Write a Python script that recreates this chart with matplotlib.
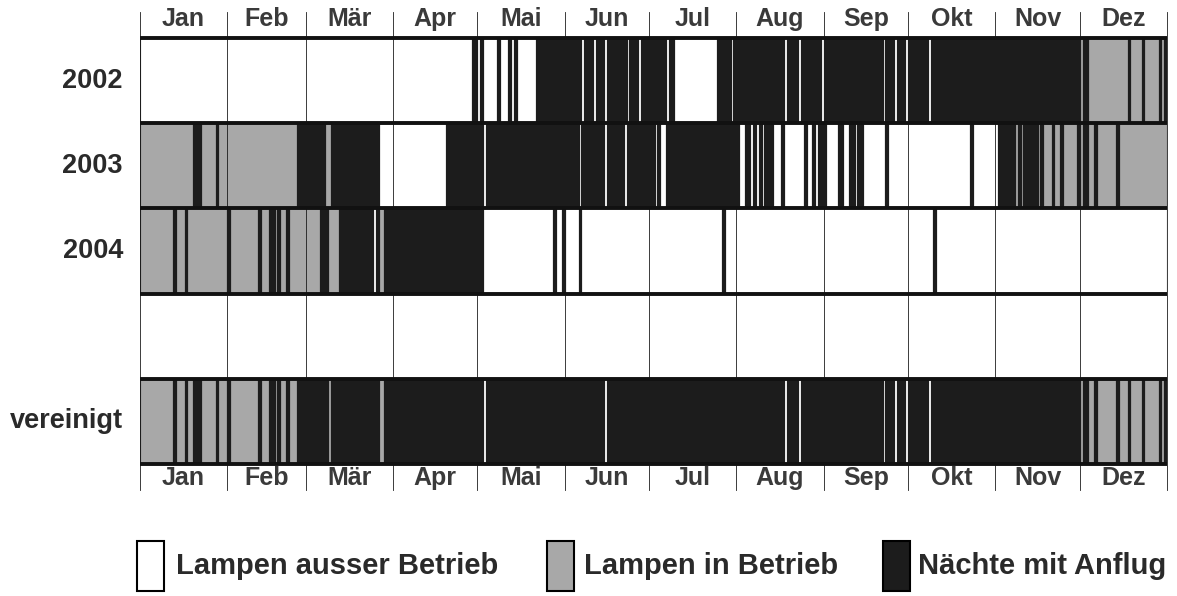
import matplotlib
matplotlib.use('Agg')
import matplotlib.pyplot as plt
from matplotlib.patches import Rectangle

plt.rcParams['font.family'] = ['Liberation Sans', 'DejaVu Sans']

months = ['Jan', 'Feb', 'Mär', 'Apr', 'Mai', 'Jun', 'Jul', 'Aug', 'Sep', 'Okt', 'Nov', 'Dez']
month_days = [31, 28, 31, 30, 31, 30, 31, 31, 30, 31, 30, 31]
year_days = 365

# W = Lampen ausser Betrieb, G = Lampen in Betrieb, B = Nächte mit Anflug
# each entry: (first day of run, state); a run lasts until the next entry
row_2002 = [(0, 'W'), (118, 'B'), (120, 'W'), (121, 'B'), (122, 'W'), (127, 'B'), (128, 'W'),
            (131, 'B'), (132, 'W'), (133, 'B'), (134, 'W'), (141, 'B'), (157, 'W'), (158, 'B'),
            (161, 'W'), (162, 'B'), (165, 'W'), (166, 'B'), (173, 'W'), (174, 'B'), (177, 'W'),
            (178, 'B'), (187, 'W'), (188, 'B'), (190, 'W'), (205, 'B'), (210, 'W'), (211, 'B'),
            (229, 'W'), (230, 'B'), (234, 'W'), (235, 'B'), (242, 'W'), (243, 'B'), (264, 'W'),
            (265, 'B'), (268, 'W'), (269, 'B'), (272, 'W'), (273, 'B'), (280, 'W'), (281, 'B'),
            (334, 'G'), (335, 'B'), (337, 'G'), (351, 'B'), (352, 'G'), (356, 'B'), (357, 'G'),
            (362, 'B'), (363, 'G'), (364, 'B')]

row_2003 = [(0, 'G'), (19, 'B'), (22, 'G'), (27, 'B'), (28, 'G'), (56, 'B'), (66, 'G'), (68, 'B'),
            (85, 'W'), (109, 'B'), (122, 'W'), (123, 'B'), (156, 'W'), (157, 'B'), (165, 'W'),
            (166, 'B'), (172, 'W'), (173, 'B'), (183, 'W'), (184, 'B'), (185, 'W'), (187, 'B'),
            (213, 'W'), (215, 'B'), (217, 'W'), (218, 'B'), (219, 'W'), (220, 'B'), (221, 'W'),
            (222, 'B'), (225, 'W'), (228, 'B'), (229, 'W'), (236, 'B'), (237, 'W'), (239, 'B'),
            (240, 'W'), (241, 'B'), (244, 'W'), (248, 'B'), (250, 'W'), (252, 'B'), (254, 'W'),
            (255, 'B'), (257, 'W'), (265, 'B'), (266, 'W'), (295, 'B'), (296, 'W'), (305, 'B'),
            (311, 'G'), (312, 'B'), (313, 'G'), (314, 'B'), (319, 'G'), (320, 'B'), (321, 'G'),
            (324, 'B'), (325, 'G'), (327, 'B'), (328, 'G'), (333, 'B'), (334, 'G'), (335, 'B'),
            (337, 'G'), (339, 'B'), (340, 'G'), (347, 'B'), (348, 'G')]

row_2004 = [(0, 'G'), (12, 'B'), (13, 'G'), (16, 'B'), (17, 'G'), (31, 'B'), (32, 'G'), (42, 'B'),
            (43, 'G'), (46, 'B'), (48, 'G'), (49, 'B'), (50, 'G'), (52, 'B'), (53, 'G'), (64, 'B'),
            (67, 'G'), (71, 'B'), (83, 'W'), (84, 'B'), (85, 'G'), (87, 'B'), (122, 'W'),
            (147, 'B'), (148, 'W'), (150, 'B'), (151, 'W'), (156, 'B'), (157, 'W'), (207, 'B'),
            (208, 'W'), (282, 'B'), (283, 'W')]

row_empty = [(0, 'W')]

row_vereinigt = [(0, 'G'), (12, 'B'), (13, 'G'), (16, 'B'), (17, 'G'), (19, 'B'), (22, 'G'),
                 (27, 'B'), (28, 'G'), (31, 'B'), (32, 'G'), (42, 'B'), (43, 'G'), (46, 'B'),
                 (48, 'G'), (49, 'B'), (50, 'G'), (52, 'B'), (53, 'G'), (56, 'B'), (67, 'G'),
                 (68, 'B'), (85, 'G'), (87, 'B'), (122, 'W'), (123, 'B'), (165, 'W'), (166, 'B'),
                 (229, 'W'), (230, 'B'), (234, 'W'), (235, 'B'), (264, 'W'), (265, 'B'), (268, 'W'),
                 (269, 'B'), (272, 'W'), (273, 'B'), (280, 'W'), (281, 'B'), (334, 'G'), (335, 'B'),
                 (337, 'G'), (339, 'B'), (340, 'G'), (347, 'B'), (348, 'G'), (351, 'B'), (352, 'G'),
                 (356, 'B'), (357, 'G'), (362, 'B'), (363, 'G'), (364, 'B')]

row_labels = ['2002', '2003', '2004', '', 'vereinigt']
rows = [row_2002, row_2003, row_2004, row_empty, row_vereinigt]

legend_labels = ['Lampen ausser Betrieb', 'Lampen in Betrieb', 'Nächte mit Anflug']
state_order = ['W', 'G', 'B']
colors = {'W': '#ffffff', 'G': '#a8a8a8', 'B': '#1c1c1c'}

W, H = 1177, 596
fig = plt.figure(figsize=(W / 100, H / 100), dpi=100)
ax = fig.add_axes([139.5 / W, 1 - 464 / H, (1167 - 139.5) / W, 426 / H])
ax.set_xlim(0, year_days)
ax.set_ylim(0, len(rows))
ax.axis('off')

n = len(rows)
for i, (label, row) in enumerate(zip(row_labels, rows)):
    y0 = n - 1 - i
    for state in state_order:
        spans = []
        for k, (start, st) in enumerate(row):
            end = row[k + 1][0] if k + 1 < len(row) else year_days
            if st == state:
                spans.append((start, end - start))
        if spans:
            edge = 'none' if label == '' else '#1c1c1c'
            ax.broken_barh(spans, (y0, 1), facecolors=colors[state], edgecolor=edge,
                           linewidth=0.8, zorder=2)
    if label:
        ax.text(-5.9, y0 + 0.5, label, ha='right', va='center', fontsize=19.5,
                fontweight='bold', color='#2a2a2a', clip_on=False)

# month grid lines and month labels (top and bottom)
bounds = [0]
for d in month_days:
    bounds.append(bounds[-1] + d)
for b in bounds:
    ax.plot([b, b], [-0.305, n + 0.305], color='#1c1c1c', lw=0.6, zorder=3, clip_on=False)
for m, name in enumerate(months):
    xc = (bounds[m] + bounds[m + 1]) / 2
    for yy in (n + 0.22, -0.165):
        ax.text(xc, yy, name, ha='center', va='center', fontsize=18, fontweight='bold',
                color='#3a3a3a', clip_on=False)

# thick row separators
for yy in [0, 1, 2, 3, 4, 5]:
    ax.plot([0, year_days], [yy, yy], color='#111111', lw=2.8, zorder=4,
            solid_capstyle='butt', clip_on=False)

# legend
box_x = [137, 547, 883]
text_x = [176, 584, 918]
for bx, tx, st, lab in zip(box_x, text_x, state_order, legend_labels):
    fig.add_artist(Rectangle((bx / W, 1 - 591 / H), 27 / W, 50 / H, transform=fig.transFigure,
                             facecolor=colors[st], edgecolor='black', linewidth=1.5))
    fig.text(tx / W, 1 - 566 / H, lab, ha='left', va='center', fontsize=21,
             fontweight='bold', color='#2a2a2a')

fig.savefig('out.png', dpi=100, facecolor='white')
